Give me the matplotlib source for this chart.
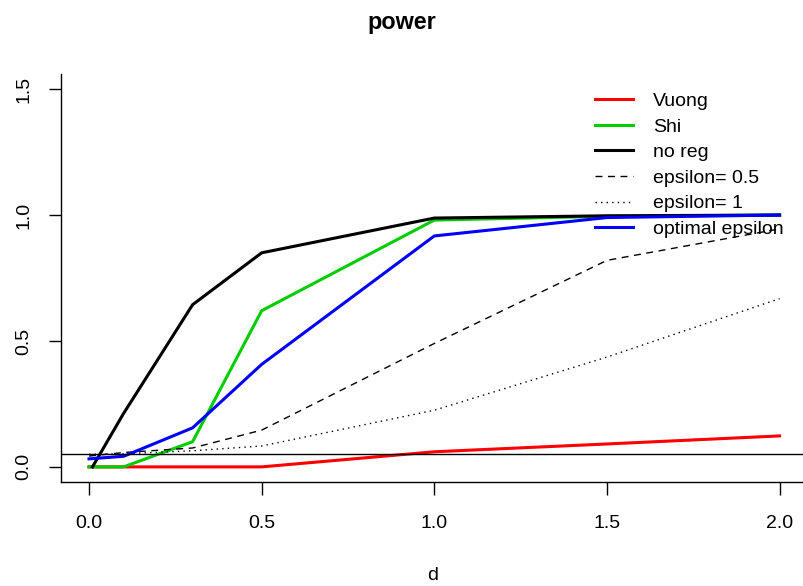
import matplotlib
matplotlib.use("Agg")
import matplotlib.pyplot as plt

plt.rcParams['font.family'] = ['Liberation Sans', 'DejaVu Sans']

d = [0.0, 0.1, 0.3, 0.5, 1.0, 1.5, 2.0]
# the no reg curve starts a touch right of zero in the picture
d_no_reg = [0.01, 0.1, 0.3, 0.5, 1.0, 1.5, 2.0]
vuong = [0.0, 0.0, 0.0, 0.0, 0.06, 0.091, 0.123]
shi = [0.0, 0.0, 0.10, 0.62, 0.98, 0.995, 1.0]
no_reg = [0.0, 0.212, 0.644, 0.85, 0.988, 0.997, 1.0]
eps_05 = [0.043, 0.057, 0.075, 0.146, 0.49, 0.82, 0.945]
eps_1 = [0.05, 0.052, 0.064, 0.083, 0.225, 0.436, 0.668]
opt_eps = [0.032, 0.042, 0.155, 0.407, 0.917, 0.99, 1.0]
alpha = 0.05

FS = 14
W, H = 804, 586
fig = plt.figure(figsize=(W / 100, H / 100), dpi=100)
# R-like plot region, runs a little past the right edge
ax = fig.add_axes([61.4 / W, (H - 482) / H, (807.2 - 61.4) / W, 408 / H])

ax.plot(d, vuong, color='#FF0000', lw=2.2, label='Vuong')
ax.plot(d, shi, color='#00CD00', lw=2.2, label='Shi')
ax.plot(d_no_reg, no_reg, color='black', lw=2.2, label='no reg')
ax.plot(d, eps_05, color='black', lw=1.0, ls=(0, (5, 4)), label='epsilon= 0.5')
ax.plot(d, eps_1, color='black', lw=1.0, ls=(0, (1, 3)), label='epsilon= 1')
ax.plot(d, opt_eps, color='#0000FF', lw=2.2, label='optimal epsilon')
ax.axhline(alpha, color='black', lw=1.0)

ax.set_xlim(-0.08, 2.08)
ax.set_ylim(-0.06, 1.56)
ax.set_xticks([0.0, 0.5, 1.0, 1.5, 2.0])
ax.set_xticklabels(['0.0', '0.5', '1.0', '1.5', '2.0'])
ax.set_yticks([0.0, 0.5, 1.0, 1.5])
ax.set_yticklabels(['0.0', '0.5', '1.0', '1.5'], rotation=90, va='center')
ax.tick_params(axis='both', length=9, width=1.0, labelsize=FS)
ax.tick_params(axis='x', pad=15)
ax.tick_params(axis='y', pad=12)

ax.spines['top'].set_visible(False)
ax.spines['right'].set_visible(False)
for s in ('left', 'bottom'):
    ax.spines[s].set_linewidth(1.0)

fig.text(433 / W, 1 - 580 / H, 'd', ha='center', va='baseline', fontsize=FS)
fig.text(0.5, 1 - 29 / H, 'power', ha='center', va='baseline', fontsize=FS * 1.2, fontweight='bold')

ax.legend(loc='upper left', bbox_to_anchor=(595 / W, 1 - 92.5 / H), bbox_transform=fig.transFigure,
          frameon=False, fontsize=FS, handlelength=1.95, handletextpad=1.05,
          labelspacing=0.41, borderpad=0, borderaxespad=0)

fig.savefig('out.png', dpi=100)
